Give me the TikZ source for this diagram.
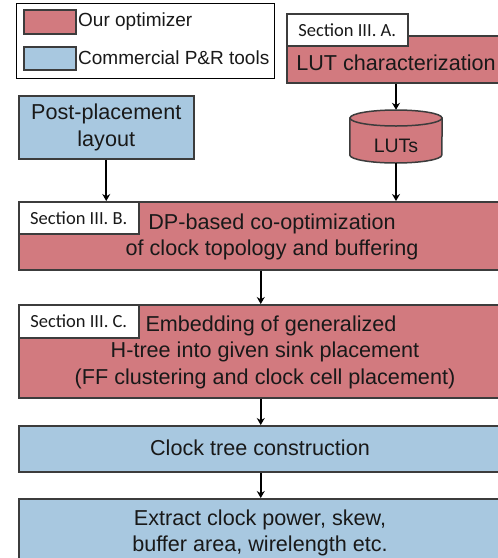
\documentclass[tikz,border=0pt]{standalone}
\usepackage{fontspec}
\setmainfont{Liberation Sans}
\newfontfamily\seclabelfont{Carlito}
\usetikzlibrary{arrows.meta}

\definecolor{optred}{RGB}{210,122,127}
\definecolor{toolblue}{RGB}{168,200,224}
\definecolor{edgegray}{RGB}{60,60,60}
\definecolor{inkdark}{RGB}{25,25,25}

\begin{document}
\begin{tikzpicture}[x=1pt,y=-1pt,
  box/.style={draw=edgegray, line width=1.5pt, inner sep=0pt, anchor=north west},
  redbox/.style={box, fill=optred},
  bluebox/.style={box, fill=toolblue},
  secbox/.style={box, fill=white, font=\seclabelfont\fontsize{18.5}{20}\selectfont, text=inkdark},
  maintxt/.style={font=\fontsize{21.6}{26.5}\selectfont, text=inkdark, align=center, inner sep=0pt},
  legtxt/.style={font=\fontsize{19}{22}\selectfont, text=inkdark, anchor=west, inner sep=0pt},
  arr/.style={-{Stealth[length=7pt,width=8pt]}, line width=1.9pt, black}]

\clip (0,0) rectangle (498,558);
\fill[white] (0,0) rectangle (498,558);

% legend
\node[draw=black, line width=0.8pt, anchor=north west, minimum width=258pt, minimum height=75pt] (legend) at (16,3) {};
\node[redbox, minimum width=52pt, minimum height=24pt] (swred) at (23,9) {};
\node[bluebox, minimum width=52pt, minimum height=23pt] (swblue) at (23,46) {};
\node[legtxt] (legred) at (78,22) {Our optimizer};
\node[legtxt] (legblue) at (78,58) {Commercial P\&R tools};

% LUT characterization
\node[redbox, minimum width=220pt, minimum height=47pt] (lut) at (286,35) {};
\node[maintxt] (luttxt) at (396,63) {LUT characterization};
\node[secbox, minimum width=121pt, minimum height=32pt] (secA) at (286,13) {Section III. A.};

% LUT database (cylinder)
\node[minimum width=92pt, minimum height=53pt, inner sep=0pt] (luts) at (396,136.5) {};
\filldraw[fill=optred, draw=edgegray, line width=1.5pt]
  (luts.west |- 0,118) -- (luts.west |- 0,155)
  arc[start angle=180, end angle=0, x radius=46, y radius=8]
  -- (luts.east |- 0,118) -- cycle;
\filldraw[fill=optred, draw=edgegray, line width=1.5pt] (396,118) ellipse [x radius=46, y radius=8];
\node[maintxt, font=\fontsize{19.5}{22}\selectfont] (lutstxt) at (396,146) {LUTs};

% post-placement layout
\node[bluebox, minimum width=175pt, minimum height=63pt, maintxt, anchor=north west] (post) at (18,95) {Post-placement\\layout};

% DP-based co-optimization
\node[redbox, minimum width=502pt, minimum height=68pt] (dp) at (18,201) {};
\node[secbox, minimum width=120pt, minimum height=32pt] (secB) at (18,201) {Section III. B.};
\node[maintxt] (dptxt) at (272,237) {DP-based co-optimization\\of clock topology and buffering};

% embedding of generalized H-tree
\node[redbox, minimum width=484pt, minimum height=93pt] (emb) at (18,304) {};
\node[secbox, minimum width=120pt, minimum height=33pt] (secC) at (18,304) {Section III. C.};
\node[maintxt] (embtxt) at (265,352) {\hspace*{12pt}Embedding of generalized\\H-tree into given sink placement\\(FF clustering and clock cell placement)};

% clock tree construction
\node[bluebox, minimum width=484pt, minimum height=46pt] (ct) at (18,425) {};
\node[maintxt] (cttxt) at (260,448) {Clock tree construction};

% extraction of results
\node[bluebox, minimum width=484pt, minimum height=72pt] (ex) at (18,498) {};
\node[maintxt] (extxt) at (260,533) {Extract clock power, skew,\\buffer area, wirelength etc.};

% connectors
\draw[arr] (lut.south -| luts.north) -- (luts.north);
\draw[arr] (luts.south) -- (luts.south |- dp.north);
\draw[arr] (post.south) -- (post.south |- dp.north);
\draw[arr] (dp.south -| ct.north) -- (emb.north -| ct.north);
\draw[arr] (emb.south -| ct.north) -- (ct.north);
\draw[arr] (ct.south) -- (ex.north);
\end{tikzpicture}
\end{document}
